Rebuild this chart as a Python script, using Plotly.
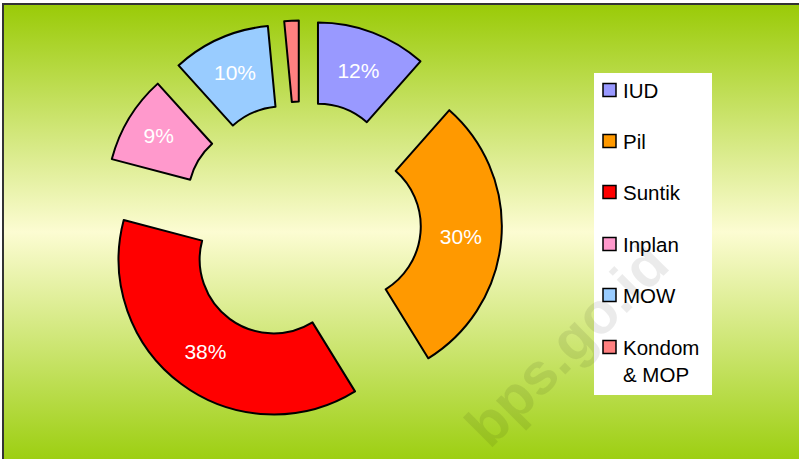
import base64
import plotly.graph_objects as go

# Data
labels = ["IUD", "Pil", "Suntik", "Inplan", "MOW", "Kondom<br>& MOP"]
values = [11.5, 29.7, 37.9, 9.2, 10.2, 1.5]
pct_text = ["12%", "30%", "38%", "9%", "10%", ""]
colors = ["#9999FF", "#FF9900", "#FF0000", "#FF99CC", "#99CCFF", "#FF8080"]

W, H = 799, 459
FONT = "Arial, Liberation Sans, sans-serif"


def px(x):
    return x / W


def py(y):
    return 1 - y / H


# pie geometry in pixels (outer radius, centre, how far each slice is pulled out)
R = 155
CX, CY = 301, 222.5
shift = [48, 46, 46, 46, 46, 47]
pulls = [s / R for s in shift]
half = R * (1 + max(pulls))

# gradient background as an inline svg
svg = (
    '<svg xmlns="http://www.w3.org/2000/svg" width="100" height="100" preserveAspectRatio="none">'
    '<defs><linearGradient id="g" x1="0" y1="0" x2="0" y2="1">'
    '<stop offset="0" stop-color="#9ACB08"/>'
    '<stop offset="0.5" stop-color="#FCFCD2"/>'
    '<stop offset="1" stop-color="#9DCF12"/>'
    '</linearGradient></defs>'
    '<rect width="100" height="100" fill="url(#g)"/></svg>'
)
bg_src = "data:image/svg+xml;base64," + base64.b64encode(svg.encode()).decode()

fig = go.Figure()

fig.add_trace(go.Pie(
    labels=labels,
    values=values,
    text=pct_text,
    textinfo="text",
    textposition="inside",
    insidetextorientation="horizontal",
    textfont=dict(family=FONT, size=21, color="white"),
    marker=dict(colors=colors, line=dict(color="black", width=2)),
    hole=0.477,
    pull=pulls,
    sort=False,
    direction="clockwise",
    rotation=0,
    domain=dict(x=[px(CX - half), px(CX + half)], y=[py(CY + half), py(CY - half)]),
    showlegend=False,
))

# hand-built legend box to match the spacing of the original
legend_y = [90, 141, 192, 244, 295, 347]
shapes = [dict(type="rect", xref="paper", yref="paper",
               x0=px(594), x1=px(712), y0=py(395), y1=py(73),
               fillcolor="white", line=dict(width=0), layer="above")]
annotations = []
for lab, col, yy in zip(labels, colors, legend_y):
    shapes.append(dict(type="rect", xref="paper", yref="paper",
                       x0=px(603), x1=px(616), y0=py(yy + 6.5), y1=py(yy - 6.5),
                       fillcolor=col, line=dict(color="black", width=1.5),
                       layer="above"))
    annotations.append(dict(text=lab, xref="paper", yref="paper",
                            x=px(621), y=py(yy - 13), xanchor="left", yanchor="top",
                            align="left", showarrow=False,
                            font=dict(family=FONT, size=20.5, color="black")))

# outer frame
shapes.append(dict(type="rect", xref="paper", yref="paper",
                   x0=px(3), x1=1.05, y0=-0.05, y1=py(4),
                   line=dict(color="#333333", width=2), layer="above"))

# watermark
annotations.append(dict(text="<b>bps.go.id</b>", xref="paper", yref="paper",
                        x=px(566), y=py(344), xanchor="center", yanchor="middle",
                        showarrow=False, textangle=-45,
                        font=dict(family=FONT, size=58, color="rgba(0,0,0,0.08)")))

fig.update_layout(
    width=W, height=H,
    margin=dict(l=0, r=0, t=0, b=0),
    paper_bgcolor="white",
    plot_bgcolor="rgba(0,0,0,0)",
    images=[dict(source=bg_src, xref="paper", yref="paper",
                 x=px(4), y=py(5), sizex=1 - px(4), sizey=py(5),
                 sizing="stretch", xanchor="left", yanchor="top", layer="below")],
    shapes=shapes,
    annotations=annotations,
    showlegend=False,
)

fig.write_html("out.html", config={"displayModeBar": False},
               post_script="document.body.style.margin = '0';")
